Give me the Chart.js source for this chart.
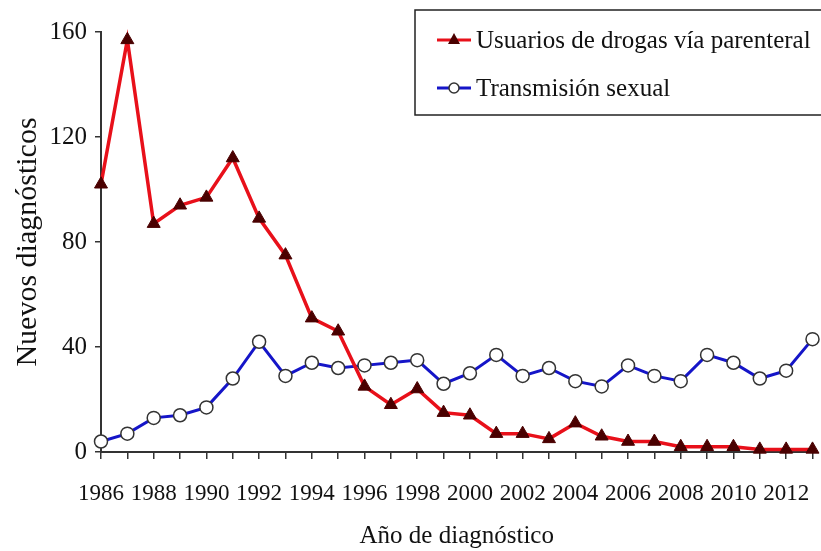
<!DOCTYPE html>
<html>
<head>
<meta charset="utf-8">
<script src="https://cdn.jsdelivr.net/npm/chart.js@4"></script>
<style>
  html, body { margin: 0; padding: 0; background: #fff; }
  #wrap { width: 821px; height: 551px; }
</style>
</head>
<body>
<div id="wrap"><canvas id="myChart" width="821" height="551"></canvas></div>
<script>
var years = [1986, 1987, 1988, 1989, 1990, 1991, 1992, 1993, 1994, 1995, 1996, 1997, 1998, 1999,
             2000, 2001, 2002, 2003, 2004, 2005, 2006, 2007, 2008, 2009, 2010, 2011, 2012, 2013];
var udvp = [102, 157, 87, 94, 97, 112, 89, 75, 51, 46, 25, 18, 24, 15,
            14, 7, 7, 5, 11, 6, 4, 4, 2, 2, 2, 1, 1, 1];
var sexual = [4, 7, 13, 14, 17, 28, 42, 29, 34, 32, 33, 34, 35, 26,
              30, 37, 29, 32, 27, 25, 33, 29, 27, 37, 34, 28, 31, 43];
var yTicks = [0, 40, 80, 120, 160];
var seriesNames = ["Usuarios de drogas vía parenteral", "Transmisión sexual"];

var serif = "'Liberation Serif', 'Times New Roman', serif";

// legend box drawn inside the plot, top right
var boxLegend = {
    id: 'boxLegend',
    afterDraw: function (chart) {
        var ctx = chart.ctx;
        ctx.save();
        ctx.strokeStyle = '#222';
        ctx.lineWidth = 1.5;
        ctx.fillStyle = '#fff';
        ctx.fillRect(415, 10, 420, 105);
        ctx.strokeRect(415, 10, 420, 105);

        var rows = [40, 88];
        chart.data.datasets.forEach(function (ds, i) {
            var y = rows[i];
            ctx.strokeStyle = ds.borderColor;
            ctx.lineWidth = 3;
            ctx.beginPath();
            ctx.moveTo(437, y);
            ctx.lineTo(471, y);
            ctx.stroke();
            if (i === 0) {
                ctx.fillStyle = ds.pointBackgroundColor;
                ctx.beginPath();
                ctx.moveTo(454, y - 7);
                ctx.lineTo(460, y + 4);
                ctx.lineTo(448, y + 4);
                ctx.closePath();
                ctx.fill();
            } else {
                ctx.fillStyle = '#fff';
                ctx.strokeStyle = '#333';
                ctx.lineWidth = 1.5;
                ctx.beginPath();
                ctx.arc(454, y, 5, 0, Math.PI * 2);
                ctx.fill();
                ctx.stroke();
            }
            ctx.fillStyle = '#111';
            ctx.font = "25px " + serif;
            ctx.textBaseline = 'middle';
            ctx.textAlign = 'left';
            ctx.fillText(ds.label, 476, y + 1);
        });
        ctx.restore();
    }
};

var ctx = document.getElementById('myChart').getContext('2d');
var myChart = new Chart(ctx, {
    type: 'line',
    data: {
        labels: years,
        datasets: [{
            label: seriesNames[0],
            data: udvp,
            borderColor: '#e8101a',
            borderWidth: 3.5,
            pointStyle: 'triangle',
            pointRadius: 7.5,
            pointBackgroundColor: '#4a0000',
            pointBorderColor: '#4a0000',
            pointBorderWidth: 1,
            tension: 0,
            clip: false
        }, {
            label: seriesNames[1],
            data: sexual,
            borderColor: '#1515c8',
            borderWidth: 3,
            pointStyle: 'circle',
            pointRadius: 6.5,
            pointBackgroundColor: '#fff',
            pointBorderColor: '#333',
            pointBorderWidth: 1.5,
            tension: 0,
            clip: false
        }]
    },
    options: {
        responsive: false,
        animation: false,
        layout: { padding: { left: 0, top: 32, right: 7, bottom: 0 } },
        plugins: {
            legend: { display: false },
            tooltip: { enabled: false }
        },
        scales: {
            x: {
                offset: false,
                grid: { drawOnChartArea: false, tickLength: 7, color: '#333', lineWidth: 1.5 },
                border: { color: '#333', width: 2 },
                ticks: {
                    autoSkip: false,
                    maxRotation: 0,
                    padding: 21,
                    color: '#111',
                    font: { family: serif, size: 23 },
                    callback: function (val, idx) {
                        return years[idx] % 2 === 0 ? String(years[idx]) : '';
                    }
                },
                title: {
                    display: true,
                    text: 'Año de diagnóstico',
                    color: '#111',
                    font: { family: serif, size: 25 },
                    padding: { top: 10, bottom: 0 }
                },
                afterFit: function (scale) {
                    scale.height = 99;
                    scale.paddingLeft = 0;
                    scale.paddingRight = 0;
                }
            },
            y: {
                min: 0,
                max: 160,
                grid: { drawOnChartArea: false, tickLength: 6, color: '#333', lineWidth: 1.5 },
                border: { color: '#333', width: 2 },
                afterBuildTicks: function (scale) {
                    scale.ticks = yTicks.map(function (v) { return { value: v }; });
                },
                ticks: {
                    padding: 8,
                    color: '#111',
                    font: { family: serif, size: 25 }
                },
                title: {
                    display: true,
                    text: 'Nuevos diagnósticos',
                    color: '#111',
                    font: { family: serif, size: 30 },
                    padding: { top: 10, bottom: 0 }
                },
                afterFit: function (scale) {
                    scale.width = 101;
                    scale.paddingTop = 0;
                    scale.paddingBottom = 0;
                }
            }
        }
    },
    plugins: [boxLegend]
});
</script>
</body>
</html>
